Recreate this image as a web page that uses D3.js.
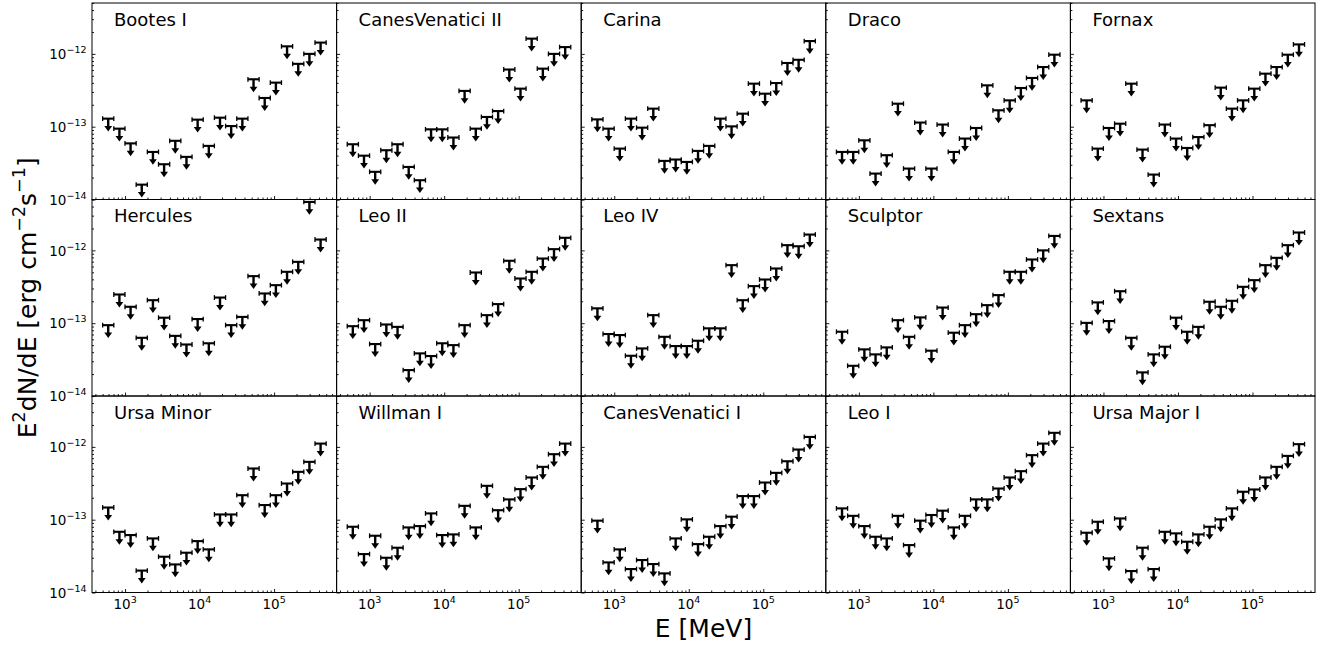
<!DOCTYPE html>
<html>
<head>
<meta charset="utf-8">
<script src="https://cdn.jsdelivr.net/npm/d3@7"></script>
<style>
  body { margin: 0; background: #fff; }
  svg { display: block; }
  text { font-family: "DejaVu Sans", sans-serif; fill: #000; }
</style>
</head>
<body>
<div id="chart"></div>
<script>
// dwarf galaxy names, row by row
var galaxies = ["Bootes I", "CanesVenatici II", "Carina", "Draco", "Fornax",
    "Hercules", "Leo II", "Leo IV", "Sculptor", "Sextans",
    "Ursa Minor", "Willman I", "CanesVenatici I", "Leo I", "Ursa Major I"]

// energy bins [MeV]
var binEdges = [500, 706.3, 997.6, 1409.2, 1990.5, 2811.7, 3971.6, 5610.1, 7924.5, 11193.7,
    15811.4, 22334.6, 31548.2, 44562.8, 62946.3, 88914.1, 125594, 177407, 250594, 353976, 500000]
var energies = [594.3, 839.5, 1185.8, 1675, 2366, 3342, 4721, 6669, 9420, 13306,
    18795, 26548, 37501, 52971, 74824, 105692, 149295, 210886, 297887, 420780]

// upper limits E^2 dN/dE [erg cm^-2 s^-1]
var bootesI = [1.29e-13, 9.4e-14, 5.9e-14, 1.6e-14, 4.5e-14, 3.05e-14, 6.4e-14, 3.85e-14, 1.25e-13, 5.45e-14,
    1.33e-13, 1.02e-13, 1.29e-13, 4.48e-13, 2.48e-13, 4.03e-13, 1.27e-12, 7.3e-13, 1.0e-12, 1.43e-12]
var canesVenaticiII = [5.74e-14, 4.0e-14, 2.4e-14, 4.75e-14, 5.74e-14, 2.8e-14, 1.84e-14, 9.2e-14, 9.2e-14, 7.1e-14,
    3.1e-13, 9.4e-14, 1.36e-13, 1.64e-13, 6.1e-13, 3.33e-13, 1.62e-12, 6.27e-13, 1.0e-12, 1.24e-12]
var carina = [1.26e-13, 9.4e-14, 5.0e-14, 1.29e-13, 9.7e-14, 1.77e-13, 3.39e-14, 3.54e-14, 3.28e-14, 4.65e-14,
    5.45e-14, 1.29e-13, 1.01e-13, 1.51e-13, 3.9e-13, 2.84e-13, 3.98e-13, 7.5e-13, 8.3e-13, 1.5e-12]
var draco = [4.5e-14, 4.5e-14, 6.5e-14, 2.27e-14, 4.06e-14, 2.07e-13, 2.66e-14, 1.14e-13, 2.66e-14, 1.07e-13,
    4.5e-14, 6.87e-14, 9.6e-14, 3.7e-13, 1.68e-13, 2.3e-13, 3.4e-13, 4.67e-13, 6.6e-13, 9.75e-13]
var fornax = [2.3e-13, 5.0e-14, 9.6e-14, 1.1e-13, 3.9e-13, 4.85e-14, 2.2e-14, 1.07e-13, 6.87e-14, 5.1e-14,
    7.2e-14, 1.05e-13, 3.44e-13, 1.77e-13, 2.3e-13, 3.33e-13, 5.35e-13, 6.6e-13, 9.75e-13, 1.35e-12]
var hercules = [9.4e-14, 2.48e-13, 1.68e-13, 6.3e-14, 2.07e-13, 1.19e-13, 6.7e-14, 5.1e-14, 1.14e-13, 5.3e-14,
    2.25e-13, 9.4e-14, 1.22e-13, 4.43e-13, 2.56e-13, 3.33e-13, 5.08e-13, 6.96e-13, 4.63e-12, 1.41e-12]
var leoII = [9.1e-14, 1.1e-13, 5.17e-14, 9.6e-14, 8.9e-14, 2.27e-14, 3.85e-14, 3.54e-14, 5.3e-14, 5.0e-14,
    9.4e-14, 4.97e-13, 1.29e-13, 1.83e-13, 7.2e-13, 4.11e-13, 5.08e-13, 7.73e-13, 1.04e-12, 1.49e-12]
var leoIV = [1.6e-13, 7.1e-14, 6.87e-14, 3.57e-14, 4.5e-14, 1.29e-13, 6.5e-14, 4.85e-14, 4.85e-14, 5.74e-14,
    8.5e-14, 8.5e-14, 6.27e-13, 2.07e-13, 3.23e-13, 3.98e-13, 5.64e-13, 1.18e-12, 1.14e-12, 1.65e-12]
var sculptor = [7.63e-14, 2.6e-14, 4.37e-14, 3.73e-14, 4.65e-14, 1.1e-13, 6.5e-14, 1.2e-13, 4.19e-14, 1.64e-13,
    7.4e-14, 9.4e-14, 1.33e-13, 1.77e-13, 2.43e-13, 5.08e-13, 5.08e-13, 7.5e-13, 1.0e-12, 1.58e-12]
var sextans = [1.01e-13, 1.93e-13, 1.07e-13, 2.75e-13, 6.3e-14, 2.11e-14, 3.73e-14, 4.75e-14, 1.19e-13, 7.63e-14,
    8.9e-14, 1.97e-13, 1.68e-13, 2.03e-13, 3.16e-13, 3.9e-13, 6.27e-13, 7.9e-13, 1.18e-12, 1.76e-12]
var ursaMinor = [1.47e-13, 6.82e-14, 6.15e-14, 2.0e-14, 5.53e-14, 3.1e-14, 2.43e-14, 3.52e-14, 5.08e-14, 3.91e-14,
    1.18e-13, 1.18e-13, 2.17e-13, 5.05e-13, 1.59e-13, 2.17e-13, 3.14e-13, 4.54e-13, 6.23e-13, 1.11e-12]
var willmanI = [8.0e-14, 3.37e-14, 6.02e-14, 3.0e-14, 4.12e-14, 7.83e-14, 8.17e-14, 1.22e-13, 6.15e-14, 6.28e-14,
    1.55e-13, 7.83e-14, 2.92e-13, 1.35e-13, 1.9e-13, 2.63e-13, 3.8e-13, 5.32e-13, 7.94e-13, 1.11e-12]
var canesVenaticiI = [9.7e-14, 2.59e-14, 3.91e-14, 2.1e-14, 2.79e-14, 2.46e-14, 1.83e-14, 5.53e-14, 1.01e-13, 4.62e-14,
    5.83e-14, 8.17e-14, 1.1e-13, 2.11e-13, 2.11e-13, 3.24e-13, 4.4e-13, 6.35e-13, 9.2e-13, 1.37e-12]
var leoI = [1.43e-13, 1.13e-13, 8.17e-14, 5.83e-14, 5.53e-14, 1.13e-13, 4.48e-14, 9.7e-14, 1.16e-13, 1.33e-13,
    7.83e-14, 1.13e-13, 1.9e-13, 1.9e-13, 2.68e-13, 3.8e-13, 4.64e-13, 7.7e-13, 1.11e-12, 1.56e-12]
var ursaMajorI = [6.62e-14, 9.37e-14, 2.94e-14, 1.04e-13, 1.97e-14, 4.12e-14, 2.1e-14, 6.82e-14, 6.49e-14, 4.98e-14,
    6.28e-14, 8.0e-14, 1.01e-13, 1.43e-13, 2.42e-13, 2.6e-13, 3.8e-13, 5.32e-13, 7.52e-13, 1.09e-12]

var limits = [bootesI, canesVenaticiII, carina, draco, fornax,
    hercules, leoII, leoIV, sculptor, sextans,
    ursaMinor, willmanI, canesVenaticiI, leoI, ursaMajorI]

// axis ranges and labelled ticks
var xDomain = [360, 690000]
var yDomain = [1e-14, 5e-12]
var xLabelTicks = [1e3, 1e4, 1e5]
var yLabelTicks = [1e-14, 1e-13, 1e-12]


var W = 1328, H = 650
var marginLeft = 92, marginTop = 3
var pw = 244.6, ph = 196.5
var nCols = 5, nRows = 3

var svg = d3.select("#chart")
    .append("svg")
    .attr("width", W)
    .attr("height", H)

var x = d3.scaleLog().domain(xDomain).range([0, pw])
var y = d3.scaleLog().domain(yDomain).range([ph, 0])

var isMajor = function (v) { return Math.abs(Math.log10(v) - Math.round(Math.log10(v))) < 1e-9 }
var xMajor = x.ticks().filter(isMajor), xMinor = x.ticks().filter(function (v) { return !isMajor(v) })
var yMajor = y.ticks().filter(isMajor), yMinor = y.ticks().filter(function (v) { return !isMajor(v) })

function supLabel(sel, v) {
    // 10^n with n as superscript
    var e = Math.round(Math.log10(v))
    sel.append("tspan").text("10")
    sel.append("tspan")
        .attr("font-size", 9.5)
        .attr("dy", -6)
        .text(String(e).replace("-", "\u2212"))
}

function drawPanel(idx) {
    var col = idx % nCols, row = Math.floor(idx / nCols)
    var g = svg.append("g")
        .attr("transform", "translate(" + (marginLeft + col * pw) + "," + (marginTop + row * ph) + ")")

    // ticks, pointing inwards
    g.append("g").attr("transform", "translate(0," + ph + ")")
        .call(d3.axisBottom(x).tickValues(xMajor).tickSizeInner(-3.5).tickSizeOuter(0).tickFormat(""))
    g.append("g").attr("transform", "translate(0," + ph + ")")
        .call(d3.axisBottom(x).tickValues(xMinor).tickSizeInner(-2).tickSizeOuter(0).tickFormat(""))
    g.append("g")
        .call(d3.axisLeft(y).tickValues(yMajor).tickSizeInner(-3.5).tickSizeOuter(0).tickFormat(""))
    g.append("g")
        .call(d3.axisLeft(y).tickValues(yMinor).tickSizeInner(-2).tickSizeOuter(0).tickFormat(""))
    g.selectAll(".domain").remove()
    g.selectAll(".tick line").attr("stroke", "#000").attr("stroke-width", 0.9)

    g.append("rect")
        .attr("width", pw)
        .attr("height", ph)
        .attr("fill", "none")
        .attr("stroke", "#000")
        .attr("stroke-width", 1)

    g.append("text")
        .attr("x", 22)
        .attr("y", 22.5)
        .attr("font-size", 18)
        .text(galaxies[idx])

    // tick labels only on outer panels
    if (col == 0) {
        yLabelTicks.forEach(function (v) {
            var t = g.append("text")
                .attr("x", -5.5)
                .attr("y", y(v) + 5.3)
                .attr("text-anchor", "end")
                .attr("font-size", 13.5)
            supLabel(t, v)
        })
    }
    if (row == nRows - 1) {
        xLabelTicks.forEach(function (v) {
            var t = g.append("text")
                .attr("x", x(v))
                .attr("y", ph + 16)
                .attr("text-anchor", "middle")
                .attr("font-size", 13.5)
            supLabel(t, v)
        })
    }

    // upper limit markers: bin-wide cap with a downward arrow
    var vals = limits[idx]
    var m = g.selectAll(".ul")
        .data(vals)
        .enter()
        .append("g")
        .attr("class", "ul")

    m.append("line")
        .attr("x1", function (d, i) { return x(binEdges[i]) })
        .attr("x2", function (d, i) { return x(binEdges[i + 1]) })
        .attr("y1", function (d) { return y(d) })
        .attr("y2", function (d) { return y(d) })
        .attr("stroke", "#000")
        .attr("stroke-width", 2.1)
    m.selectAll(".serif")
        .data(function (d, i) { return [[binEdges[i], d], [binEdges[i + 1], d]] })
        .enter()
        .append("line")
        .attr("x1", function (p) { return x(p[0]) })
        .attr("x2", function (p) { return x(p[0]) })
        .attr("y1", function (p) { return y(p[1]) - 2.4 })
        .attr("y2", function (p) { return y(p[1]) + 2.4 })
        .attr("stroke", "#000")
        .attr("stroke-width", 1.3)
    m.append("line")
        .attr("x1", function (d, i) { return x(energies[i]) })
        .attr("x2", function (d, i) { return x(energies[i]) })
        .attr("y1", function (d) { return y(d) })
        .attr("y2", function (d) { return y(d) + 8.5 })
        .attr("stroke", "#000")
        .attr("stroke-width", 2.4)
    m.append("path")
        .attr("d", function (d, i) {
            var cx = x(energies[i]), cy = y(d)
            return "M" + (cx - 3.9) + "," + (cy + 7.4) + "L" + (cx + 3.9) + "," + (cy + 7.4) + "L" + cx + "," + (cy + 12.9) + "Z"
        })
        .attr("fill", "#000")
}

for (var i = 0; i < galaxies.length; i++) drawPanel(i)

// axis titles
svg.append("text")
    .attr("x", marginLeft + nCols * pw / 2)
    .attr("y", 636.5)
    .attr("text-anchor", "middle")
    .attr("font-size", 25)
    .text("E [MeV]")

var yl = svg.append("text")
    .attr("transform", "translate(35.5," + (marginTop + nRows * ph / 2) + ") rotate(-90)")
    .attr("text-anchor", "middle")
    .attr("font-size", 25)
yl.append("tspan").text("E")
yl.append("tspan").attr("font-size", 17.5).attr("dy", -11).text("2")
yl.append("tspan").attr("dy", 11).text("dN/dE [erg cm")
yl.append("tspan").attr("font-size", 17.5).attr("dy", -11).text("\u22122")
yl.append("tspan").attr("dy", 11).text("s")
yl.append("tspan").attr("font-size", 17.5).attr("dy", -11).text("\u22121")
yl.append("tspan").attr("dy", 11).text("]")
</script>
</body>
</html>
